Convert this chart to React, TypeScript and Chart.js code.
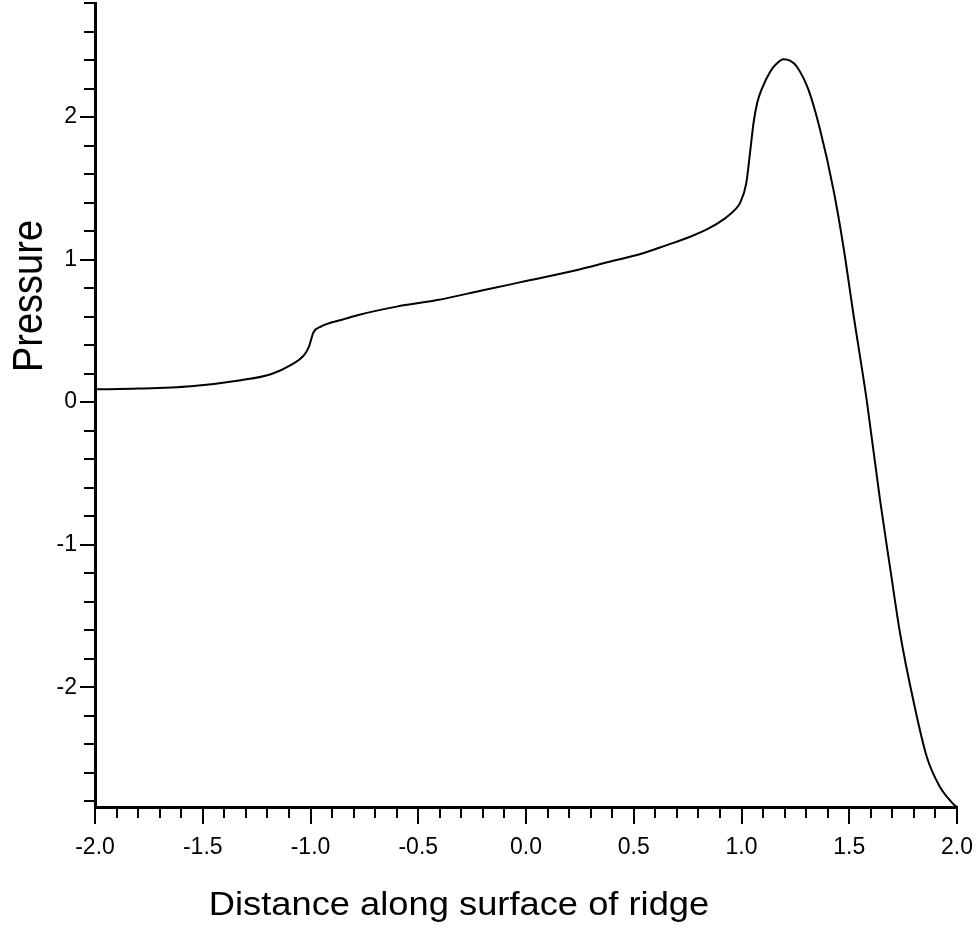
import React, { useEffect, useRef } from "react";
import { Chart, registerables } from "chart.js";

Chart.register(...registerables);

// Distance along surface of ridge (x) and pressure (y)
const distance = [
  -2.0, -1.8, -1.555, -1.323, -1.184, -1.092, -1.03, -1.007, -0.986, -0.952,
  -0.85, -0.782, -0.6, -0.412, -0.2, -0.087, 0.0, 0.222, 0.4, 0.531, 0.65,
  0.762, 0.85, 0.917, 0.97, 0.994, 1.022, 1.041, 1.056, 1.073, 1.095, 1.133, 1.16,
  1.195, 1.225, 1.257, 1.311, 1.365, 1.427, 1.473, 1.519, 1.581, 1.643, 1.689,
  1.736, 1.797, 1.86, 1.921, 1.96, 1.983, 2.0,
];
const pressure = [
  0.09, 0.095, 0.112, 0.154, 0.196, 0.26, 0.33, 0.39, 0.49, 0.53,
  0.58, 0.61, 0.67, 0.716, 0.785, 0.821, 0.85, 0.922, 0.99, 1.039, 1.1,
  1.16, 1.22, 1.282, 1.35, 1.40, 1.535, 1.768, 1.96, 2.10, 2.2, 2.318, 2.37,
  2.405, 2.395, 2.353, 2.19, 1.909, 1.488, 1.09, 0.62, 0.014, -0.688, -1.156,
  -1.623, -2.09, -2.489, -2.70, -2.78, -2.82, -2.84,
];

const xTickValues = [-2.0, -1.5, -1.0, -0.5, 0.0, 0.5, 1.0, 1.5, 2.0];
const yTickValues = [-2, -1, 0, 1, 2];
const xMinorStep = 0.1;
const yMinorStep = 0.2;
const xRange = [-2.0, 2.0];
const yRange = [-2.84, 2.8];

const xTitle = "Distance along surface of ridge";
const yTitle = "Pressure";

const FONT = '"Liberation Sans", Arial, Helvetica, sans-serif';

const axisDecor = {
  id: "axisDecor",
  afterDraw(chart: any) {
    const { ctx, chartArea, scales } = chart;
    const x = scales.x;
    const y = scales.y;
    ctx.save();
    ctx.strokeStyle = "#000";
    ctx.lineWidth = 2;
    // x ticks
    const nx = Math.round((xRange[1] - xRange[0]) / xMinorStep);
    for (let k = 0; k <= nx; k++) {
      const v = xRange[0] + k * xMinorStep;
      const px = Math.round(x.getPixelForValue(v));
      const major = k % 5 === 0;
      const len = major ? 17 : 11;
      ctx.beginPath();
      ctx.moveTo(px, chartArea.bottom);
      ctx.lineTo(px, chartArea.bottom + len);
      ctx.stroke();
    }
    // y ticks
    for (let k = -20; k <= 20; k++) {
      const v = k * yMinorStep;
      if (v < yRange[0] - 1e-9 || v > yRange[1] + 1e-9) continue;
      const py = Math.round(y.getPixelForValue(v));
      const major = k % 5 === 0;
      const len = major ? 15 : 11;
      ctx.beginPath();
      ctx.moveTo(chartArea.left - len, py);
      ctx.lineTo(chartArea.left, py);
      ctx.stroke();
    }
    // axis titles
    ctx.fillStyle = "#000";
    ctx.save();
    ctx.translate(459, 915);
    ctx.scale(1.1, 1);
    ctx.font = `33px ${FONT}`;
    ctx.textAlign = "center";
    ctx.textBaseline = "alphabetic";
    ctx.fillText(xTitle, 0, 0);
    ctx.restore();

    ctx.save();
    ctx.translate(42, 296);
    ctx.rotate(-Math.PI / 2);
    ctx.scale(1, 1.1);
    ctx.font = `38px ${FONT}`;
    ctx.textAlign = "center";
    ctx.textBaseline = "alphabetic";
    ctx.fillText(yTitle, 0, 0);
    ctx.restore();
    ctx.restore();
  },
};

const zeroPad = (s: any) => {
  s.paddingTop = 0;
  s.paddingBottom = 0;
  s.paddingLeft = 0;
  s.paddingRight = 0;
};

export default function App() {
  const ref = useRef<HTMLCanvasElement | null>(null);
  useEffect(() => {
    if (!ref.current) return;
    const chart = new Chart(ref.current, {
      type: "line",
      data: {
        datasets: [
          {
            data: distance.map((d, i) => ({ x: d, y: pressure[i] })),
            borderColor: "#000",
            borderWidth: 2,
            pointRadius: 0,
            fill: false,
            cubicInterpolationMode: "monotone",
          },
        ],
      },
      options: {
        animation: false,
        responsive: false,
        devicePixelRatio: 1,
        layout: { padding: { top: 3, right: 21, left: 0, bottom: 0 } },
        plugins: {
          legend: { display: false },
          tooltip: { enabled: false },
        },
        scales: {
          x: {
            type: "linear",
            min: xRange[0],
            max: xRange[1],
            afterFit: (s: any) => {
              s.height = 128;
              zeroPad(s);
            },
            afterBuildTicks: (s: any) => {
              s.ticks = xTickValues.map((v) => ({ value: v }));
            },
            grid: { display: false, drawTicks: false },
            border: { display: true, color: "#000", width: 3 },
            ticks: {
              color: "#000",
              font: { size: 23, family: FONT },
              padding: 27,
              maxRotation: 0,
              autoSkip: false,
              callback: (v: any) => Number(v).toFixed(1),
            },
          },
          y: {
            type: "linear",
            min: yRange[0],
            max: yRange[1],
            afterFit: (s: any) => {
              s.width = 95;
              zeroPad(s);
            },
            afterBuildTicks: (s: any) => {
              s.ticks = yTickValues.map((v) => ({ value: v }));
            },
            grid: { display: false, drawTicks: false },
            border: { display: true, color: "#000", width: 3 },
            ticks: {
              color: "#000",
              font: { size: 23, family: FONT },
              padding: 18,
              autoSkip: false,
              callback: (v: any) => String(Math.round(Number(v))),
            },
          },
        },
      },
      plugins: [axisDecor],
    });
    return () => chart.destroy();
  }, []);
  return (
    <div style={{ position: "absolute", left: 0, top: 0, width: 978, height: 935, background: "#fff" }}>
      <canvas ref={ref} width={978} height={935} style={{ display: "block" }} />
    </div>
  );
}
